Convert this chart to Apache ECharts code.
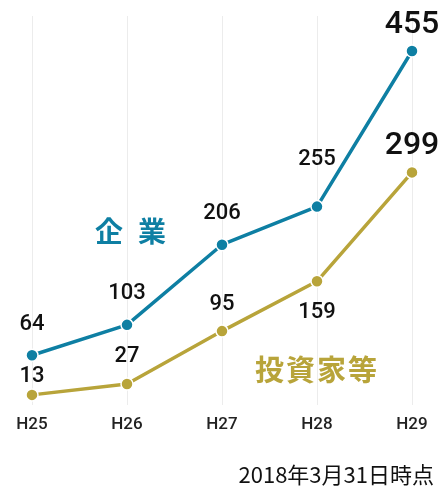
<!DOCTYPE html>
<html><head><meta charset="utf-8">
<script src="https://cdn.jsdelivr.net/npm/echarts@6/dist/echarts.min.js"></script>
<style>html,body{margin:0;padding:0;background:#fff}#c{width:446px;height:490px}</style>
</head><body><div id="c"></div>
<script>
const categories = ['H25','H26','H27','H28','H29'];
const companyValues = [64, 103, 206, 255, 455];
const investorValues = [13, 27, 95, 159, 299];
const companyName = ['企', '業'];
const investorName = ['投', '資', '家', '等'];
const note = '2018年3月31日時点';

const FONT = '"Noto Sans CJK JP", "Noto Sans", sans-serif';
const NUMFONT = 'Roboto, "Noto Sans", sans-serif';
const TEAL = '#0e7fa3';
const GOLD = '#b8a43a';

const companyOffsets = [[0,-31],[0,-31],[0,-31],[0,-47],[0,-26]];
const investorOffsets = [[0,-18],[0,-27],[0,-27],[0,31],[0,-26]];

function mk(vals, offs){
  return vals.map((v,i)=>({
    value: v,
    label: {
      show: true, position: 'inside', offset: offs[i],
      fontSize: i === vals.length-1 ? 32 : 22,
      color: '#111', fontFamily: NUMFONT, fontWeight: 500
    }
  }));
}

const graphics = [];
companyName.forEach((ch, i) => graphics.push({type: 'text', left: 95 + i * 43, top: 217, style: {text: ch, fill: TEAL, font: 'bold 28px ' + FONT}}));
investorName.forEach((ch, i) => graphics.push({type: 'text', left: 255 + i * 31, top: 355, style: {text: ch, fill: GOLD, font: 'bold 29px ' + FONT}}));
graphics.push({type: 'text', right: 12, top: 464, style: {text: note, fill: '#111', font: '22px ' + FONT}});

const chart = echarts.init(document.getElementById('c'));
chart.setOption({
  animation: false,
  grid: {left: 32, right: 34, top: 16, bottom: 85},
  xAxis: {
    type: 'category', data: categories, boundaryGap: false,
    axisLine: {show: false}, axisTick: {show: false},
    axisLabel: {color: '#222', fontSize: 17, fontWeight: 500, fontFamily: NUMFONT, margin: 11},
    splitLine: {show: true, lineStyle: {color: '#ececec', width: 1}}
  },
  yAxis: {
    type: 'value', min: 0, max: 500, show: false,
    splitLine: {show: false}
  },
  series: [
    {
      name: '企業', type: 'line', data: mk(companyValues, companyOffsets),
      symbol: 'circle', symbolSize: 12,
      lineStyle: {color: TEAL, width: 3.5},
      itemStyle: {color: TEAL, borderColor: '#fff', borderWidth: 1.5}
    },
    {
      name: '投資家等', type: 'line', data: mk(investorValues, investorOffsets),
      symbol: 'circle', symbolSize: 12,
      lineStyle: {color: GOLD, width: 3.5},
      itemStyle: {color: GOLD, borderColor: '#fff', borderWidth: 1.5}
    }
  ],
  graphic: graphics
});
</script></body></html>
